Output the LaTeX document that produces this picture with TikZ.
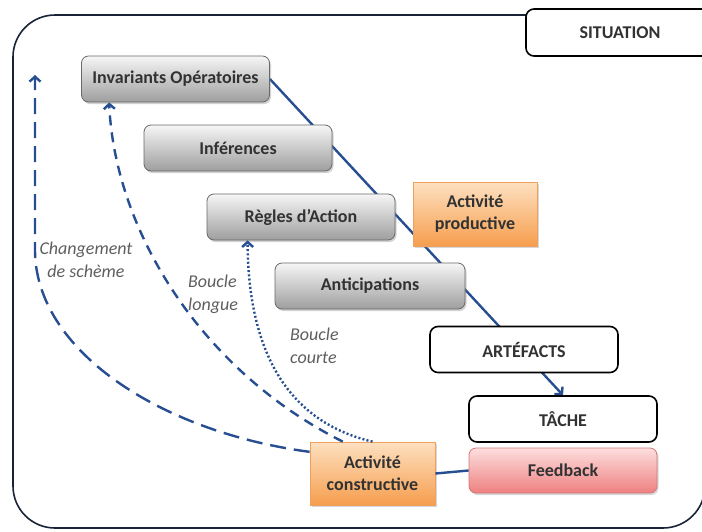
\documentclass[tikz,border=0pt]{standalone}
\usepackage{fontspec}
\setmainfont{Carlito}
\usetikzlibrary{arrows.meta,shadows,calc,backgrounds}
\definecolor{lineblue}{RGB}{38,78,145}
\definecolor{framecol}{RGB}{25,35,55}
\definecolor{txtcol}{RGB}{50,50,50}
\definecolor{lblcol}{RGB}{95,95,95}
\definecolor{graytop}{RGB}{246,246,246}
\definecolor{graybot}{RGB}{158,158,158}
\definecolor{grayedge}{RGB}{105,105,105}
\definecolor{orgtop}{RGB}{253,224,192}
\definecolor{orgbot}{RGB}{246,158,78}
\definecolor{orgedge}{RGB}{238,160,95}
\definecolor{pinktop}{RGB}{253,222,222}
\definecolor{pinkbot}{RGB}{238,128,128}
\definecolor{pinkedge}{RGB}{212,120,120}
\begin{document}
\begin{tikzpicture}[x=1pt,y=-1pt,
 basebox/.style={minimum width=188pt,minimum height=46pt,inner sep=0pt,
   font=\fontsize{18}{22}\selectfont\bfseries,text=txtcol,align=center},
 graybox/.style={basebox,rounded corners=7pt,draw=grayedge,line width=0.8pt,
   top color=graytop,bottom color=graybot,
   drop shadow={opacity=0.35,shadow xshift=1.5pt,shadow yshift=-2pt}},
 orangebox/.style={basebox,minimum width=124pt,minimum height=64pt,draw=orgedge,line width=0.8pt,
   top color=orgtop,bottom color=orgbot,
   drop shadow={opacity=0.3,shadow xshift=1.5pt,shadow yshift=-2pt}},
 pinkbox/.style={basebox,rounded corners=7pt,draw=pinkedge,line width=0.8pt,
   top color=pinktop,bottom color=pinkbot,
   drop shadow={opacity=0.3,shadow xshift=1.5pt,shadow yshift=-2pt}},
 whitebox/.style={basebox,rounded corners=8pt,draw=black,line width=1.6pt,fill=white},
 conn/.style={draw=lineblue,line width=2.4pt},
 barb/.style={-{Straight Barb[length=5pt,width=11pt]}},
 lab/.style={font=\fontsize{18}{23}\selectfont\itshape,text=lblcol,inner sep=0pt}
]
\useasboundingbox (0,0) rectangle (702,531);
\clip (0,0) rectangle (702,531);
\begin{scope}[on background layer]
  \fill[white] (0,0) rectangle (702,531);
  \draw[framecol,line width=1.6pt,rounded corners=42pt] (13,15) rectangle (705,528);
\end{scope}

\node[graybox] (inv) at (175.5,79) {Invariants Opératoires};
\node[graybox] (inf) at (238,148) {Inférences};
\node[graybox] (reg) at (301,217) {Règles d’Action};
\node[graybox,minimum width=190pt] (ant) at (370,286) {Anticipations};
\node[orangebox] (prod) at (475,214) {Activité\\productive};
\node[whitebox] (art) at (524,349.5) {ARTÉFACTS};
\node[whitebox] (tache) at (563,419) {TÂCHE};
\node[pinkbox,minimum height=45pt] (feed) at (563,470.5) {Feedback};
\node[orangebox,minimum width=125pt,minimum height=63pt] (cons) at (372.5,473.5) {Activité\\constructive};
\node[whitebox,minimum height=47pt] (sit) at (620,32.5) {SITUATION};

\begin{scope}[on background layer]
  \draw[conn,barb] (inv.east) -- (tache.north);
\end{scope}
\draw[conn] (feed.west) -- (cons.east);

\coordinate (chg) at (35,75);
\draw[conn,barb,dash pattern=on 16pt off 8pt] (cons.161) .. controls (160,432) and (35,350) .. (35,250) -- (chg);
\draw[conn,barb,dash pattern=on 10pt off 7pt] (cons.133) .. controls (200,370) and (115,230) .. ([xshift=28pt]inv.south west);
\draw[conn,barb,dash pattern=on 2pt off 2.2pt] (cons.north) .. controls (280,420) and (248,340) .. ([xshift=41pt]reg.south west);

\node[lab,align=center] (lchg) at (86,260) {Changement\\de schème};
\node[lab,align=left,anchor=west] (llong) at (188,294) {Boucle\\longue};
\node[lab,align=left,anchor=west] (lcourt) at (290,346) {Boucle\\courte};
\end{tikzpicture}
\end{document}
